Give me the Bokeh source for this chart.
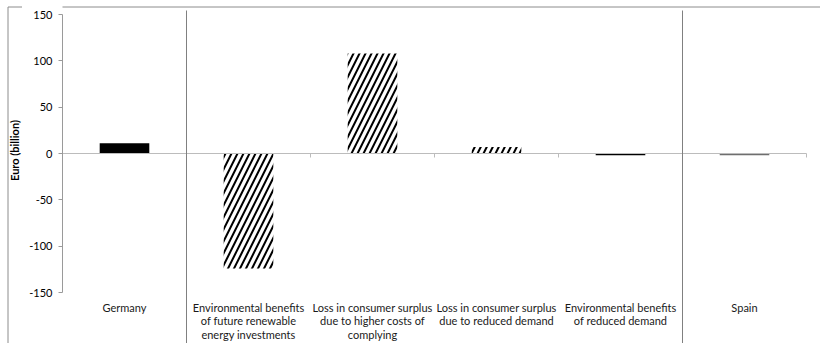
import math
from bokeh.plotting import figure
from bokeh.layouts import row
from bokeh.models import ColumnDataSource, FixedTicker, Range1d
from bokeh.core.properties import value
from bokeh.embed import file_html
from bokeh.resources import INLINE

# ---- data ----
categories = [
    "Germany",
    "Environmental benefits\nof future renewable\nenergy investments",
    "Loss in consumer surplus\ndue to higher costs of\ncomplying",
    "Loss in consumer surplus\ndue to reduced demand",
    "Environmental benefits\nof reduced demand",
    "Spain",
]
values = [11, -124, 108, 7, -2, -2]
bar_colors = ["#000000", "#ffffff", "#ffffff", "#ffffff", "#000000", "#6e6e6e"]
bar_hatch = [" ", "/", "/", "/", " ", " "]
y_ticks = [-150, -100, -50, 0, 50, 100, 150]
y_tick_labels = {t: str(t) for t in y_ticks}
y_title = "Euro (billion)"
separators = [1, 5]  # group boundaries (category index)

# ---- geometry (pixel mapping) ----
W, H = 820, 343
title_w = 22
left_px = 62
px_per_x = 124.0
px_per_y = 278.0 / 300.0
y_end = 150 + 14 / px_per_y
y_start = -150 - (H - 292) / px_per_y
x_end = len(categories) + (W - left_px - px_per_x * len(categories)) / px_per_x
yr = Range1d(y_start, y_end)
border_y = 150 + 7.5 / px_per_y
border_color = "#8c8c8c"

# ---- left strip: outer border + axis title ----
a = figure(width=title_w, height=H, output_backend="svg", toolbar_location=None,
           x_range=(0, title_w), y_range=yr, x_axis_location=None, y_axis_location=None,
           min_border_left=0, min_border_right=0, min_border_top=0, min_border_bottom=0)
a.outline_line_color = None
a.grid.visible = False
a.segment(x0=[7.5], x1=[7.5], y0=[border_y], y1=[y_start], line_color=border_color)
a.segment(x0=[7.5], x1=[title_w], y0=[border_y], y1=[border_y], line_color=border_color)
a.text(x=[14], y=[(153 - 150) / px_per_y], text=[y_title], angle=math.pi / 2,
       text_align="center", text_baseline="middle",
       text_font=value("Lato"), text_font_style="bold", text_font_size="11px",
       text_color="#000000")

# ---- main chart ----
p = figure(width=W - title_w, height=H, output_backend="svg", toolbar_location=None,
           x_range=(0, x_end), y_range=yr, x_axis_location=None,
           min_border_left=left_px - title_w, min_border_right=0,
           min_border_top=0, min_border_bottom=0)
p.outline_line_color = None
p.grid.visible = False

ax = p.yaxis[0]
ax.ticker = FixedTicker(ticks=y_ticks)
ax.major_label_overrides = y_tick_labels
ax.bounds = (-150, 150)
ax.axis_line_color = "#9a9a9a"
ax.major_tick_line_color = "#9a9a9a"
ax.major_tick_out = 4
ax.major_tick_in = 0
ax.minor_tick_line_color = None
ax.major_label_standoff = 6
ax.major_label_text_font = "Lato"
ax.major_label_text_font_size = "11px"
ax.major_label_text_color = "#000000"

# top border continuation
p.segment(x0=[-1], x1=[x_end], y0=[border_y], y1=[border_y], line_color=border_color)

centers = [i + 0.5 for i in range(len(categories))]
src = ColumnDataSource(dict(x=centers, top=values, color=bar_colors, hatch=bar_hatch))
p.vbar(x="x", top="top", bottom=0, width=0.4, source=src,
       fill_color="color", line_color=None,
       hatch_pattern="hatch", hatch_color="#000000", hatch_scale=12, hatch_weight=2)

# zero line with boundary ticks
n = len(categories)
p.segment(x0=[0], x1=[n], y0=[0], y1=[0], line_color="#bcbcbc", line_width=1)
p.segment(x0=list(range(1, n + 1)), x1=list(range(1, n + 1)),
          y0=[0] * n, y1=[-4 / px_per_y] * n, line_color="#bcbcbc", line_width=1)

# group separators
p.segment(x0=separators, x1=separators, y0=[150 + 4 / px_per_y] * len(separators),
          y1=[y_start] * len(separators), line_color="#808080", line_width=1)

# category labels
p.text(x=centers, y=[-150 - 8 / px_per_y] * n, text=categories,
       text_align="center", text_baseline="top",
       text_font=value("Lato"), text_font_size="11px", text_color="#1a1a1a",
       text_line_height=1.05)

layout = row(a, p, spacing=0)
open("out.html", "w").write(file_html(layout, INLINE))
